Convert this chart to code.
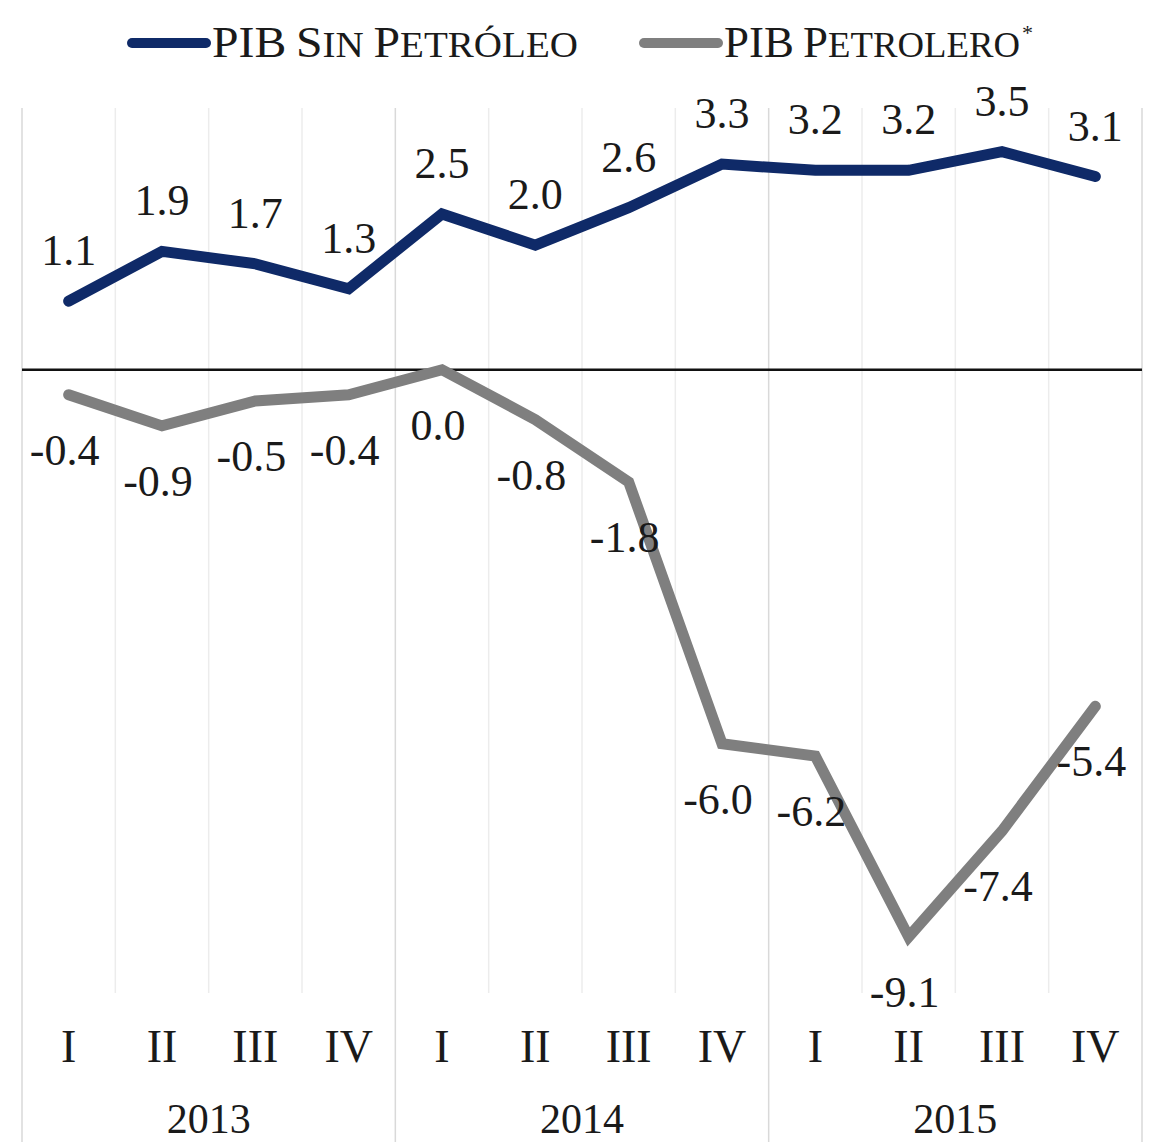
<!DOCTYPE html>
<html>
<head>
<meta charset="utf-8">
<script src="https://cdn.jsdelivr.net/npm/d3@7"></script>
<style>
  body { margin: 0; background: #fff; }
  text { font-family: "Liberation Serif", "DejaVu Serif", serif; fill: #1a1a1a; }
</style>
</head>
<body>
<div id="grafico"></div>
<script>
// Datos del grafico (variacion anual %)
var trimestres = ["I", "II", "III", "IV", "I", "II", "III", "IV", "I", "II", "III", "IV"];
var anios = ["2013", "2014", "2015"];
var pibSinPetroleo = [1.1, 1.9, 1.7, 1.3, 2.5, 2.0, 2.6, 3.3, 3.2, 3.2, 3.5, 3.1];
var pibPetrolero = [-0.4, -0.9, -0.5, -0.4, 0.0, -0.8, -1.8, -6.0, -6.2, -9.1, -7.4, -5.4];
var nombresSeries = ["PIB Sin Petróleo", "PIB Petrolero"];

const width = 1160,
  height = 1142;
const margin = { top: 108, left: 22, right: 18, bottom: 149 };
const colorAzul = "#0f2a68",
  colorGris = "#7f7f7f";

const svg = d3
  .select("#grafico")
  .append("svg")
  .attr("width", width)
  .attr("height", height);

// Escalas
var x = d3
  .scaleBand()
  .domain(d3.range(trimestres.length))
  .range([margin.left, width - margin.right]);
var y = d3
  .scaleLinear()
  .domain([-10, 4.2])
  .range([height - margin.bottom, margin.top]);

// Lineas verticales de separacion entre trimestres
svg
  .append("g")
  .selectAll("line")
  .data(d3.range(trimestres.length + 1))
  .enter()
  .append("line")
  .attr("x1", (d) => (d < trimestres.length ? x(d) : x.range()[1]))
  .attr("x2", (d) => (d < trimestres.length ? x(d) : x.range()[1]))
  .attr("y1", y(4.2))
  .attr("y2", (d) => (d % 4 === 0 ? height : y(-10)))
  .style("stroke", (d) => (d % 4 === 0 ? "#d9d9d9" : "#ececec"))
  .style("stroke-width", "1.5px");

// Linea del cero
svg
  .append("line")
  .attr("x1", x.range()[0])
  .attr("x2", x.range()[1])
  .attr("y1", y(0))
  .attr("y2", y(0))
  .style("stroke", "#111")
  .style("stroke-width", "2.5px");

// Lineas de las series
var linea = d3
  .line()
  .x((d, i) => x(i) + x.bandwidth() / 2)
  .y((d) => y(d));

svg
  .append("path")
  .datum(pibPetrolero)
  .attr("d", linea)
  .style("fill", "none")
  .style("stroke", colorGris)
  .style("stroke-width", "11px")
  .style("stroke-linejoin", "miter")
  .style("stroke-linecap", "round");

svg
  .append("path")
  .datum(pibSinPetroleo)
  .attr("d", linea)
  .style("fill", "none")
  .style("stroke", colorAzul)
  .style("stroke-width", "11px")
  .style("stroke-linejoin", "miter")
  .style("stroke-linecap", "round");

// Etiquetas de valores
svg
  .append("g")
  .selectAll("text")
  .data(pibSinPetroleo)
  .enter()
  .append("text")
  .attr("x", (d, i) => x(i) + x.bandwidth() / 2)
  .attr("y", (d) => y(d) - 36)
  .attr("text-anchor", "middle")
  .style("font-size", "44px")
  .text((d) => d.toFixed(1));

svg
  .append("g")
  .selectAll("text")
  .data(pibPetrolero)
  .enter()
  .append("text")
  .attr("x", (d, i) => x(i) + x.bandwidth() / 2 - 4)
  .attr("y", (d) => y(d) + 70)
  .attr("text-anchor", "middle")
  .style("font-size", "44px")
  .text((d) => d.toFixed(1));

// Eje X: trimestres y años
svg
  .append("g")
  .selectAll("text")
  .data(trimestres)
  .enter()
  .append("text")
  .attr("x", (d, i) => x(i) + x.bandwidth() / 2)
  .attr("y", 1062)
  .attr("text-anchor", "middle")
  .style("font-size", "46px")
  .text((d) => d);

svg
  .append("g")
  .selectAll("text")
  .data(anios)
  .enter()
  .append("text")
  .attr("x", (d, i) => x(i * 4) + x.bandwidth() * 2)
  .attr("y", 1133)
  .attr("text-anchor", "middle")
  .style("font-size", "42px")
  .text((d) => d);

// Leyenda (versalitas hechas a mano: mayusculas grandes y minusculas pequeñas)
var leyenda = [
  { nombre: nombresSeries[0], color: colorAzul, x0: 128, largo: 366, nota: false },
  { nombre: nombresSeries[1], color: colorGris, x0: 640, largo: 296, nota: true },
];
const itemLeyenda = svg
  .append("g")
  .selectAll("g")
  .data(leyenda)
  .enter()
  .append("g")
  .attr("transform", (d) => "translate(" + d.x0 + ",0)");

itemLeyenda
  .append("line")
  .attr("x1", 4)
  .attr("x2", 78)
  .attr("y1", 43)
  .attr("y2", 43)
  .style("stroke", (d) => d.color)
  .style("stroke-width", "10px")
  .style("stroke-linecap", "round");

const textoLeyenda = itemLeyenda
  .append("text")
  .attr("x", 84)
  .attr("y", 57)
  .attr("textLength", (d) => d.largo)
  .attr("lengthAdjust", "spacingAndGlyphs");

textoLeyenda
  .selectAll("tspan")
  .data((d) => d.nombre.split(""))
  .enter()
  .append("tspan")
  .style("font-size", (c) =>
    c !== " " && c === c.toUpperCase() ? "44px" : "36px"
  )
  .text((c) => c.toUpperCase());

itemLeyenda
  .filter((d) => d.nota)
  .append("text")
  .attr("x", (d) => 84 + d.largo + 2)
  .attr("y", 40)
  .style("font-size", "22px")
  .text("*");
</script>
</body>
</html>
